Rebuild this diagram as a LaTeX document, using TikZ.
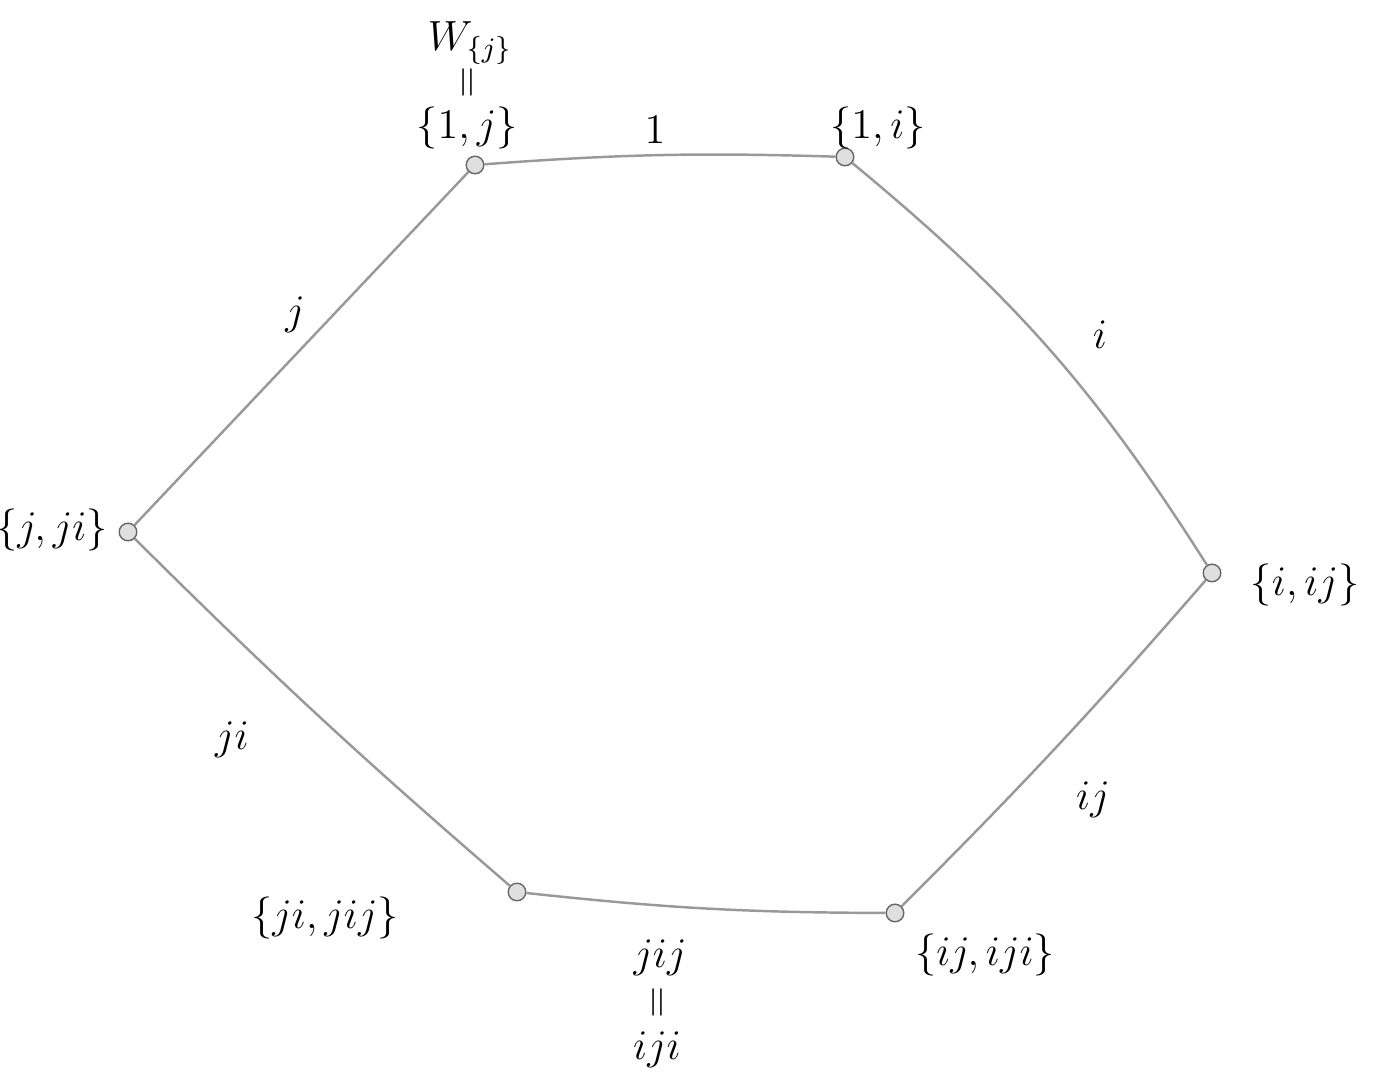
\documentclass[tikz,border=0pt]{standalone}
\begin{document}
\begin{tikzpicture}[scale=1.0,
  vert/.style={circle,draw=gray!80!black,fill=gray!25,inner sep=0pt,minimum size=5pt},
  edge/.style={gray!80,line width=0.7pt},
  lbl/.style={font=\large}]
\useasboundingbox (0,0) rectangle (13.82,10.86);

\node[vert] (a) at (4.75,9.21) {};
\node[vert] (b) at (8.45,9.29) {};
\node[vert] (c) at (12.12,5.13) {};
\node[vert] (d) at (8.95,1.73) {};
\node[vert] (e) at (5.17,1.94) {};
\node[vert] (f) at (1.28,5.54) {};

\draw[edge] (a) to[bend left=3] (b);
\draw[edge] (b) to[bend left=9] (c);
\draw[edge] (c) to[bend left=2] (d);
\draw[edge] (d) to[bend left=3] (e);
\draw[edge] (e) to[bend left=2] (f);
\draw[edge] (f) -- (a);

\node[lbl] (wj) at (4.70,10.43) {$W_{\{j\}}$};
\node[lbl] (eqa) at (4.70,10.04) {\rotatebox{90}{$=$}};
\node[lbl] (la) at (4.67,9.58) {$\{1,j\}$};
\node[lbl] (lb) at (8.78,9.58) {$\{1,i\}$};
\node[lbl] (lc) at (13.05,5.01) {$\{i,ij\}$};
\node[lbl] (ld) at (9.85,1.31) {$\{ij,iji\}$};
\node[lbl] (le) at (3.25,1.68) {$\{ji,jij\}$};
\node[lbl,anchor=east] (lf) at (1.20,5.56) {$\{j,ji\}$};

\node[lbl] (eab) at (6.55,9.56) {$1$};
\node[lbl] (ebc) at (11.00,7.51) {$i$};
\node[lbl] (ecd) at (10.93,2.86) {$ij$};
\node[lbl] (ede) at (6.60,1.28) {$jij$};
\node[lbl] (eqd) at (6.60,0.84) {\rotatebox{90}{$=$}};
\node[lbl] (ide) at (6.57,0.36) {$iji$};
\node[lbl] (eef) at (2.32,3.46) {$ji$};
\node[lbl] (efa) at (2.95,7.71) {$j$};
\end{tikzpicture}
\end{document}
